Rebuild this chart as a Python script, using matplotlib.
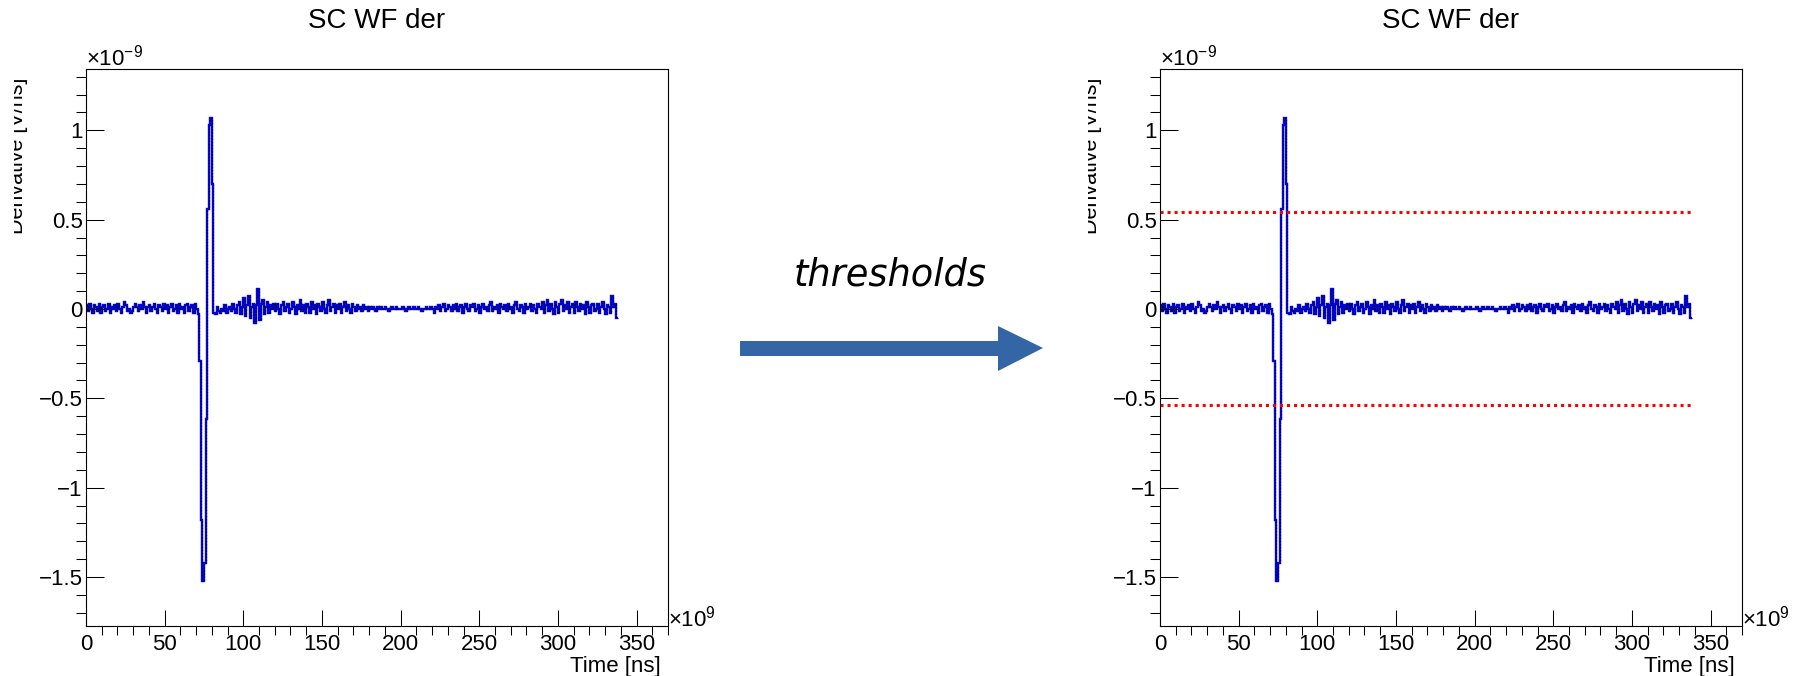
#==================================================
#Importing libraries
#==================================================
import numpy as np
import matplotlib
matplotlib.use("Agg")
import matplotlib.pyplot as plt
from matplotlib.transforms import Bbox
from matplotlib.patches import Polygon

plt.rcParams["font.family"] = ["Liberation Sans", "DejaVu Sans"]
plt.rcParams["mathtext.fontset"] = "custom"
plt.rcParams["mathtext.rm"] = "Liberation Sans"
plt.rcParams["mathtext.it"] = "Liberation Sans:italic"

#==================================================
#Data (derivative in units of 1e-9 V/ns, one sample per ns)
#==================================================
baseline_start = [0.02, -0.01, 0.03, 0.00, -0.02, 0.02, 0.01, -0.01, 0.03, -0.02,
                  0.01, 0.02, -0.01, 0.00, 0.03, -0.02, 0.01, 0.00, 0.02, -0.01,
                  0.03, 0.00, -0.02, 0.01, 0.04, 0.02, -0.01, 0.00, -0.02, -0.01,
                  0.01, 0.03, 0.01, -0.01, 0.02, 0.00, 0.04, 0.01, -0.02, 0.01,
                  0.02, -0.01, 0.01, 0.03, 0.00, -0.02, 0.02, 0.01, -0.01, 0.03,
                  0.00, 0.02, -0.02, 0.01, 0.03, -0.01, 0.00, 0.02, -0.02, 0.03,
                  0.00, 0.01, -0.02, 0.02, 0.03, -0.01, 0.01, 0.02, -0.02, 0.03,
                  0.00, -0.03]
pulse = [-0.29, -1.18, -1.52, -1.42, -0.615, 0.56, 1.03, 1.07, 0.70]
after_pulse = [-0.02, -0.03, 0.01, -0.01, -0.02, 0.00, -0.01, 0.02, -0.02, 0.00,
               0.01, -0.01, 0.03, 0.00, -0.02, 0.02, 0.04, -0.03, 0.01]
ringing = [0.06, -0.04, 0.02, 0.07, -0.05, 0.01, 0.03, -0.08, 0.02, 0.11,
           -0.06, 0.03, 0.05, -0.03, 0.01, 0.04, -0.02, 0.02, 0.00, 0.03]
noise_mid = [-0.01, 0.03, 0.00, -0.03, 0.02, 0.04, -0.01, 0.01, 0.03, -0.02,
             0.00, 0.04, 0.01, -0.03, 0.02, 0.00, 0.05, -0.01, 0.02, -0.02,
             0.03, 0.01, -0.02, 0.04, 0.00, 0.02, -0.03, 0.03, 0.01, -0.01,
             0.04, 0.00, -0.02, 0.02, 0.05, -0.01, 0.01, 0.03, -0.02, 0.02,
             0.00, 0.03, -0.02, 0.01, 0.04, -0.01, 0.02, 0.00, -0.02, 0.03,
             0.01, -0.01, 0.02, 0.00, 0.01, -0.01, 0.02, 0.00, 0.01, -0.01,
             0.01, 0.00, 0.01, 0.00, -0.01, 0.01]
flat_part = [0.00, 0.01, 0.00, 0.00, 0.01, 0.00, -0.01, 0.00, 0.01, 0.00,
             0.00, 0.01, 0.00, 0.00, 0.00, 0.01, 0.00, -0.01, 0.00, 0.01,
             0.00, 0.00, 0.01, 0.00, 0.00, 0.01, 0.00, -0.01, 0.00, 0.00,
             0.01, 0.00, 0.00, 0.01, 0.00]
noise_late = [-0.02, 0.01, 0.00, 0.02, -0.01, 0.01, 0.03, -0.01, 0.00, 0.02,
              0.01, -0.01, 0.02, 0.00, 0.03, -0.01, 0.01, 0.02, -0.02, 0.01,
              0.03, 0.00, -0.01, 0.02, 0.01, 0.03, -0.01, 0.00, 0.02, -0.02,
              0.01, 0.03, 0.00, 0.01, -0.01, 0.02, 0.04, -0.01, 0.01, 0.00,
              0.02, -0.02, 0.03, 0.01, 0.00, 0.02, -0.01, 0.03, 0.00, 0.01,
              -0.02, 0.02, 0.04, 0.00, -0.01, 0.02, 0.01, -0.02, 0.03, 0.00,
              0.01, 0.03, -0.01, 0.02, 0.00, -0.02, 0.03, 0.01, 0.00]
noise_end = [0.04, -0.02, 0.02, 0.05, -0.01, 0.03, 0.00, -0.03, 0.04, 0.01,
             -0.02, 0.03, 0.05, -0.01, 0.02, 0.00, 0.04, -0.02, 0.01, 0.03,
             -0.02, 0.04, 0.01, -0.01, 0.03, 0.00, 0.02, -0.03, 0.04, 0.01,
             -0.02, 0.02, 0.03, -0.01, 0.00, 0.03, -0.02, 0.01, 0.04, 0.00,
             -0.03, 0.02, 0.01, -0.02, 0.07, 0.01, 0.03, -0.05]

threshold = 0.54
title = "SC WF der"
xlabel = "Time [ns]"
ylabel = "Derivative [V/ns]"

deriv = np.array(baseline_start + pulse + after_pulse + ringing + noise_mid
                 + flat_part + noise_late + noise_end)
edges = np.arange(len(deriv) + 1)

#==================================================
#Figure
#==================================================
W, H = 1801, 676
fig = plt.figure(figsize=(W / 100, H / 100), dpi=100)


def draw_panel(left_px, show_thr):
    ax = fig.add_axes([left_px / W, 50 / H, 582 / W, 557 / H])
    ax.stairs(deriv, edges, color="#0000ff", lw=1.7, baseline=None)
    ax.stairs(deriv, edges, color="black", lw=0.9, ls=(0, (1, 1.5)), baseline=None)
    if show_thr:
        ax.hlines([threshold, -threshold], 0, edges[-1], colors="#ff0000",
                  lw=2.2, linestyles=[(0, (1, 1.3))])
    ax.set_xlim(0, 370)
    ax.set_ylim(-1.774, 1.343)
    ax.set_xticks(np.arange(0, 351, 50))
    ax.set_xticks(np.arange(0, 371, 10), minor=True)
    ax.set_yticks([-1.5, -1, -0.5, 0, 0.5, 1])
    ax.set_yticklabels(["\u22121.5", "\u22121", "\u22120.5", "0", "0.5", "1"])
    ax.set_yticks(np.arange(-17, 14) / 10, minor=True)
    ax.tick_params(direction="in", top=False, right=False, labelsize=16, width=0.75)
    ax.tick_params(axis="x", which="major", length=11.5, pad=6)
    ax.tick_params(axis="x", which="minor", length=6.5, width=0.75)
    ax.tick_params(axis="y", which="major", length=13, pad=2.5)
    ax.tick_params(axis="y", which="minor", length=7.2, width=0.75)
    for s in ax.spines.values():
        s.set_linewidth(0.8)
    fig.text((left_px + 291) / W, 1 - 21 / H, title, ha="center", va="center",
             fontsize=20)
    ax.text(1 - 7 / 582, -46 / 557, xlabel, transform=ax.transAxes,
            ha="right", va="baseline", fontsize=16)
    ax.text(1.0, 0.0, r"$\times10^{9}$", transform=ax.transAxes,
            ha="left", va="baseline", fontsize=16)
    ax.text(0.0, 1 + 3 / 557, r"$\times10^{-9}$", transform=ax.transAxes,
            ha="left", va="baseline", fontsize=16)
    # y title is cut off at the left edge of the original pad
    yl = fig.text((left_px - 58) / W, 1 - 78 / H, ylabel, rotation=90,
                  ha="right", va="top", fontsize=15.5)
    yl.set_clip_on(True)
    yl.set_clip_box(Bbox([[left_px - 72, 0], [left_px, H]]))
    return ax


ax1 = draw_panel(86, False)
ax2 = draw_panel(1160, True)

# arrow between the panels
arr = fig.add_axes([0, 0, 1, 1])
arr.set_xlim(0, W)
arr.set_ylim(H, 0)
arr.axis("off")
arr.add_patch(Polygon([[740, 341], [998, 341], [998, 326], [1043, 348],
                       [998, 371], [998, 356], [740, 356]],
                      closed=True, color="#3465a4", lw=0))
arr.text(890, 286, "thresholds", ha="center", va="baseline", fontsize=26.5,
         style="italic", family="DejaVu Sans")

plt.savefig("out.png", dpi=100)
